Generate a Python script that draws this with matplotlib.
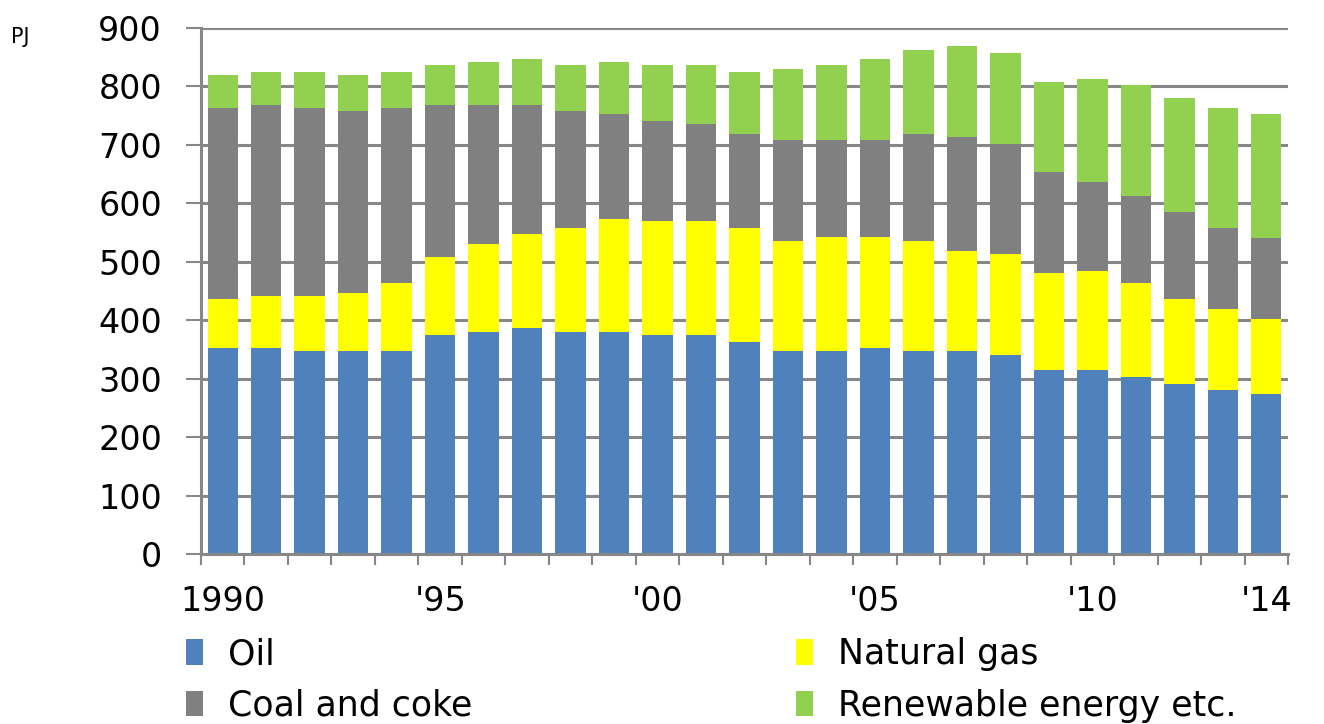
import numpy as np
import matplotlib
matplotlib.use('Agg')
import matplotlib.pyplot as plt
from matplotlib.patches import Patch

# energy consumption by source, PJ
years = list(range(1990, 2015))
oil = [352, 352, 347, 347, 347, 375, 380, 386, 380, 380, 375, 375, 363,
       347, 347, 352, 347, 347, 341, 314, 314, 302, 291, 280, 274]
gas = [84, 90, 95, 100, 116, 133, 150, 161, 178, 194, 194, 194, 195,
       189, 195, 190, 189, 172, 172, 166, 171, 161, 145, 139, 128]
coal = [327, 327, 321, 311, 300, 261, 239, 222, 200, 178, 172, 167, 161,
        172, 166, 166, 183, 194, 189, 173, 151, 150, 150, 138, 139]
renew = [56, 56, 62, 61, 62, 67, 72, 78, 78, 89, 95, 100, 106,
         122, 128, 139, 144, 156, 156, 155, 177, 189, 194, 206, 211]
tick_pos = [0, 5, 10, 15, 20, 24]
tick_labels = ['1990', "'95", "'00", "'05", "'10", "'14"]

names = ['Oil', 'Natural gas', 'Coal and coke', 'Renewable energy etc.']
colors = ['#4F81BD', '#FFFF00', '#808080', '#92D050']
grid_col = '#878787'

fig = plt.figure(figsize=(13.24, 7.24), dpi=100)
ax = fig.add_axes([201/1324, 1-554/724, 1087/1324, 526/724])

x = np.arange(len(years))
bottom = np.zeros(len(years))
for vals, c in zip([oil, gas, coal, renew], colors):
    ax.bar(x, vals, width=0.7, bottom=bottom, color=c, zorder=2)
    bottom += np.array(vals)

ax.set_xlim(-0.5, len(years) - 0.5)
ax.set_ylim(0, 900)
ax.set_yticks(np.arange(0, 901, 100))
ax.yaxis.grid(True, color=grid_col, linewidth=2.2, zorder=0)
ax.set_axisbelow(True)

for s in ['top', 'right']:
    ax.spines[s].set_visible(False)
for s in ['left', 'bottom']:
    ax.spines[s].set_color(grid_col)
    ax.spines[s].set_linewidth(2.2)

# category boundary ticks, labels at bar centres
ax.set_xticks(np.arange(-0.5, len(years), 1.0))
ax.set_xticklabels([])
ax.set_xticks(tick_pos, minor=True)
ax.set_xticklabels(tick_labels, minor=True)
ax.tick_params(axis='x', which='major', length=8, width=1.5, color=grid_col)
ax.tick_params(axis='x', which='minor', length=0, pad=22, labelsize=24)
ax.tick_params(axis='y', length=11, width=1.5, color=grid_col, pad=17, labelsize=24)

fig.text(11/1324, 1-37/724, 'PJ', fontsize=15, va='center', ha='left')

h = [Patch(facecolor=c) for c in colors]
leg_kw = dict(frameon=False, fontsize=25, handlelength=0.5, handleheight=0.75,
              handletextpad=0.7, labelspacing=0.5, borderpad=0, borderaxespad=0,
              loc='center left')
fig.legend([h[0], h[2]], [names[0], names[2]],
           bbox_to_anchor=(186/1324, 1-680/724), **leg_kw)
fig.legend([h[1], h[3]], [names[1], names[3]],
           bbox_to_anchor=(796/1324, 1-680/724), **leg_kw)

fig.savefig('out.png', dpi=100)
